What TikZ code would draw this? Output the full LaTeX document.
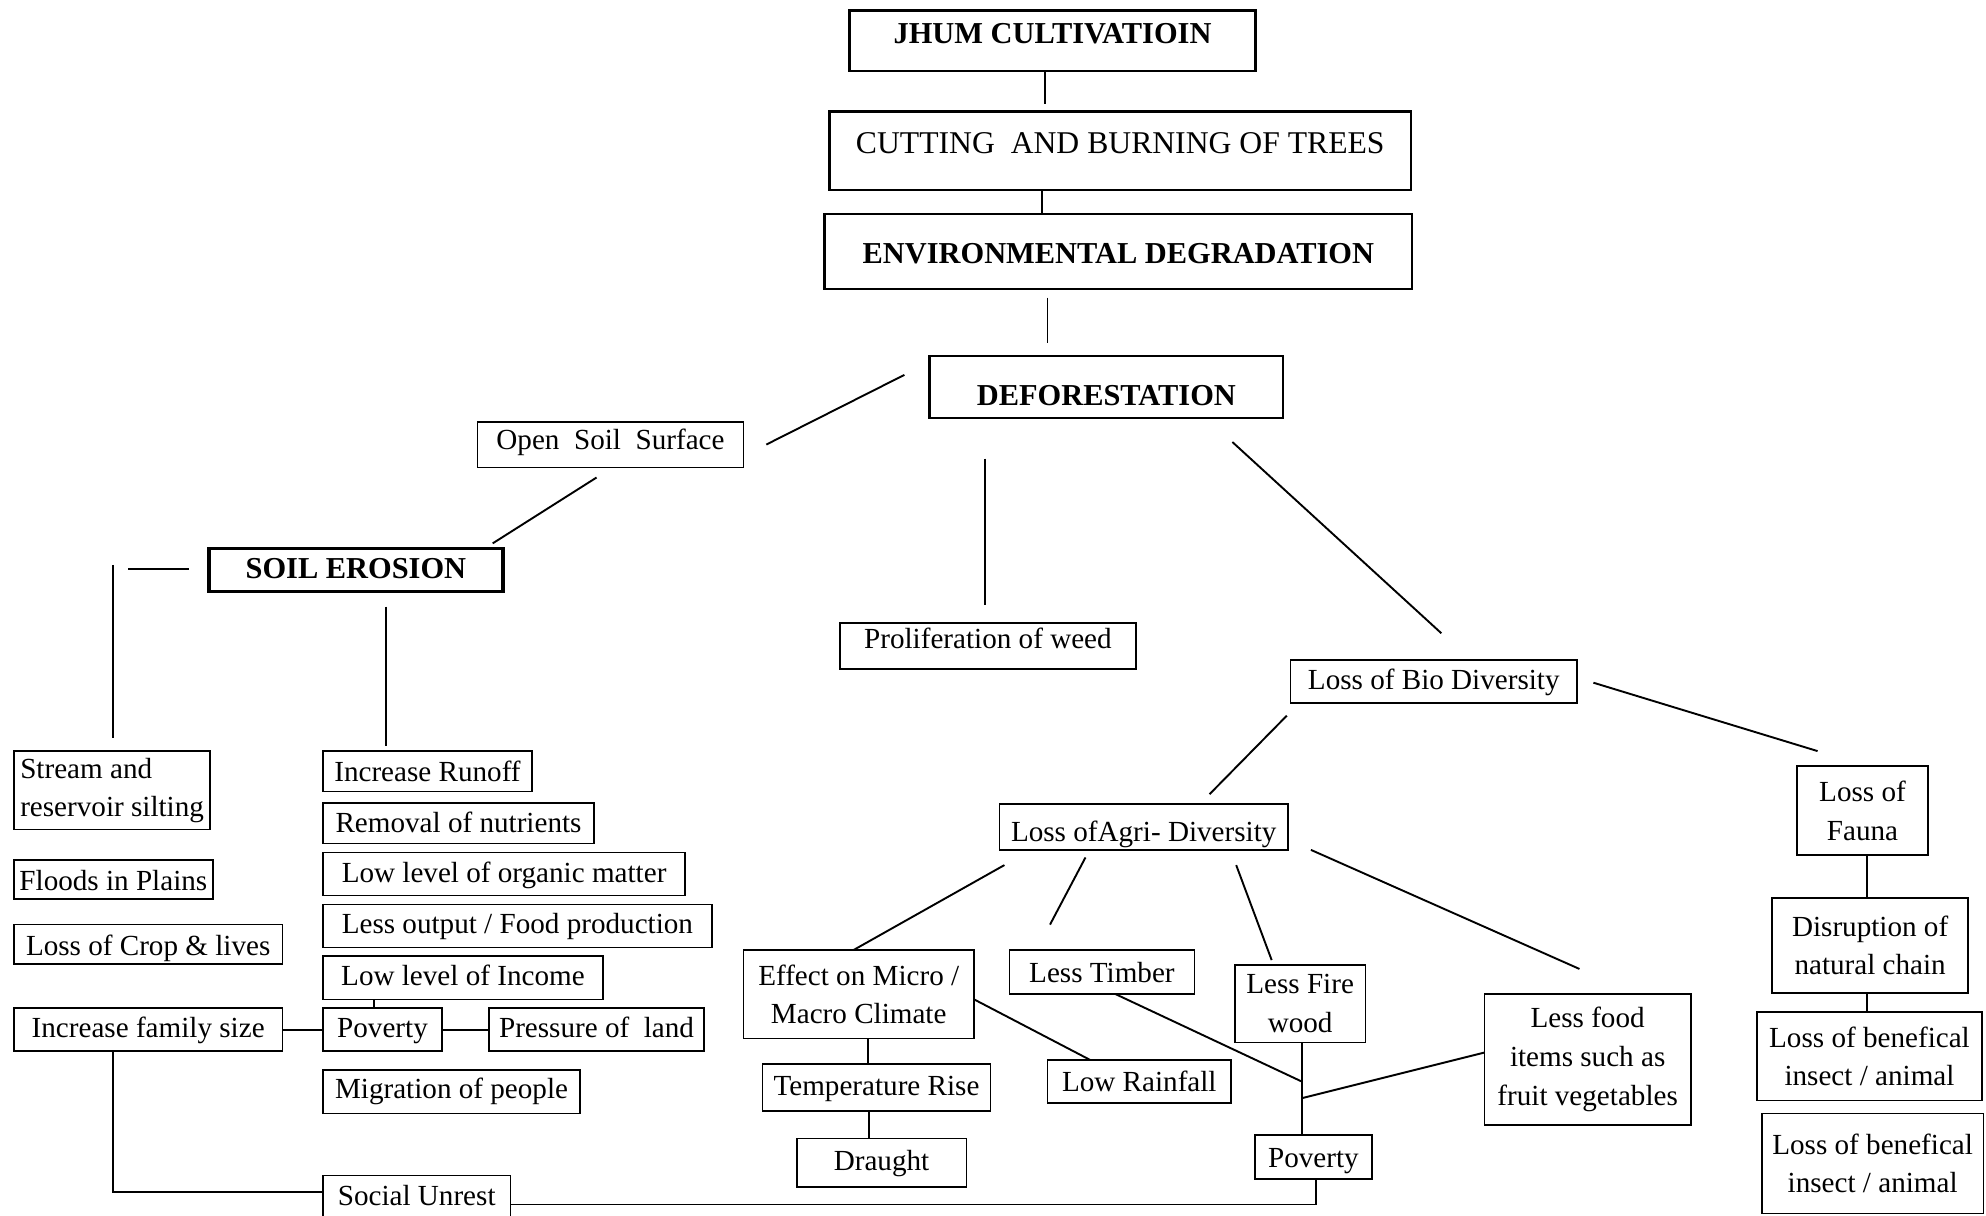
\documentclass[tikz,border=0pt]{standalone}
\usepackage{fontspec}
\setmainfont{Liberation Serif}
\usetikzlibrary{calc}
\tikzset{
  bx/.style={draw, line width=1.3pt, inner xsep=4pt, inner ysep=0pt, outer sep=0pt,
    anchor=north west, font=\fontsize{23}{30.5}\selectfont},
  ml/.style={bx, align=center},
  hd/.style={bx, line width=1.9pt, font=\fontsize{24}{28}\selectfont\bfseries},
  ln/.style={line width=1.5pt},
}
\begin{document}
\begin{tikzpicture}[x=1pt, y=-1pt]
\useasboundingbox (0,0) rectangle (1568,960);
\fill[white] (0,0) rectangle (1568,960);

% top chain
\node[hd, line width=2.2pt, minimum width=320pt, text height=26pt, text depth=22pt] (jhum) at (671,8) {JHUM CULTIVATIOIN};
\node[bx, line width=1.8pt, font=\fontsize{25}{28}\selectfont, minimum width=459pt, text height=33pt, text depth=29pt] (cutting) at (655,88) {CUTTING\ \ AND BURNING OF TREES};
\node[hd, minimum width=464pt, text height=39pt, text depth=20pt] (env) at (651,169) {ENVIRONMENTAL DEGRADATION};
\node[hd, minimum width=279pt, text height=39pt, text depth=10pt] (defor) at (734,281) {DEFORESTATION};

% left branch
\node[bx, minimum width=210pt, text height=22pt, text depth=14pt] (opensoil) at (377,333) {Open~ Soil~ Surface};
\node[hd, line width=3pt, minimum width=232pt, text height=24pt, text depth=10pt] (soilero) at (165,433) {SOIL EROSION};

\node[ml, align=left, minimum width=155pt, minimum height=62pt] (stream) at (11,593) {Stream and\\reservoir silting};
\node[bx, minimum width=157pt, text height=24pt, text depth=7pt] (floods) at (11,679) {Floods in Plains};
\node[bx, minimum width=212pt, text height=24pt, text depth=7pt] (losscrop) at (11,730) {Loss of Crop \& lives};
\node[bx, minimum width=212pt, text height=23pt, text depth=11pt] (famsize) at (11,796) {Increase family size};
\node[bx, minimum width=94pt, text height=23pt, text depth=11pt] (povL) at (255,796) {Poverty};
\node[bx, minimum width=170pt, text height=23pt, text depth=11pt] (pressure) at (386,796) {Pressure of~ land};

\node[bx, minimum width=165pt, text height=24pt, text depth=8pt] (runoff) at (255,593) {Increase Runoff};
\node[bx, minimum width=214pt, text height=23pt, text depth=9pt] (nutrients) at (255,634) {Removal of nutrients};
\node[bx, minimum width=286pt, text height=24pt, text depth=10pt] (organic) at (255,673) {Low level of organic matter};
\node[bx, minimum width=307pt, text height=23pt, text depth=11pt] (output) at (255,714) {Less output / Food production};
\node[bx, minimum width=221pt, text height=23pt, text depth=11pt] (income) at (255,755) {Low level of Income};
\node[bx, minimum width=203pt, text height=22pt, text depth=12pt] (migration) at (255,845) {Migration of people};
\node[bx, minimum width=148pt, text height=24pt, text depth=13pt] (social) at (255,928) {Social Unrest};

% middle
\node[bx, minimum width=234pt, text height=20pt, text depth=16pt] (prolif) at (663,492) {Proliferation of weed};
\node[bx, minimum width=226pt, text height=23pt, text depth=11pt] (lossbio) at (1019,521) {Loss of Bio Diversity};
\node[bx, minimum width=228pt, text height=29pt, text depth=7pt] (agri) at (789,635) {Loss ofAgri- Diversity};

\node[ml, minimum width=182pt, minimum height=70pt] (effect) at (587,750) {Effect on Micro /\\Macro Climate};
\node[bx, minimum width=145pt, text height=25pt, text depth=9pt] (lowrain) at (827,837) {Low Rainfall};
\node[bx, minimum width=180pt, text height=25pt, text depth=12pt] (temp) at (602,840) {Temperature Rise};
\node[bx, minimum width=134pt, text height=25pt, text depth=13pt] (draught) at (629,899) {Draught};
\node[bx, minimum width=146pt, text height=26pt, text depth=9pt] (timber) at (797,750) {Less Timber};
\node[ml, minimum width=103pt, minimum height=61pt] (firewood) at (975,762) {Less Fire\\wood};
\node[ml, minimum width=163pt, minimum height=103pt] (lessfood) at (1172,785) {Less food\\items such as\\fruit vegetables};
\node[bx, minimum width=92pt, text height=26pt, text depth=9pt] (povR) at (991,896) {Poverty};

% right
\node[ml, minimum width=103pt, minimum height=70pt] (fauna) at (1419,605) {Loss of\\Fauna};
\node[ml, minimum width=155pt, minimum height=75pt] (disrupt) at (1399,709) {Disruption of\\natural chain};
\node[ml, minimum width=178pt, minimum height=70pt] (benef1) at (1387,799) {Loss of benefical\\insect / animal};
\node[ml, minimum width=175pt, minimum height=79pt] (benef2) at (1391,879) {Loss of benefical\\insect / animal};

% connectors
\draw[ln] ($(jhum.south west)+(154,1)$) -- ($(cutting.north west)+(170,-6)$);
\draw[ln] ($(cutting.south west)+(168,0)$) -- ($(env.north west)+(172,0)$);
\draw[ln] ($(env.south west)+(176,7)$) -- ($(defor.north west)+(93,-10)$);
\draw[ln] ($(defor.west)+(-20,-9.5)$) -- ($(opensoil.east)+(18,0)$);
\draw[ln] ($(opensoil.south west)+(94,8)$) -- ($(soilero.north west)+(224,-4)$);
\draw[ln] ($(soilero.west)+(-16,-1)$) -- ($(soilero.west)+(-64,-1)$);
\draw[ln] ($(stream.north west)+(78,-147)$) -- ($(stream.north west)+(78,-10)$);
\draw[ln] ($(soilero.south west)+(140,12)$) -- ($(runoff.north west)+(50,-4)$);
\draw[ln] ($(defor.south west)+(44,32)$) -- ($(prolif.north west)+(115,-14)$);
\draw[ln] ($(defor.south west)+(239,19)$) -- ($(lossbio.north west)+(119,-21)$);
\draw[ln] ($(lossbio.east)+(13,1)$) -- ($(fauna.north west)+(16,-12)$);
\draw[ln] ($(lossbio.south west)+(-3,10)$) -- ($(agri.north west)+(166,-8)$);
\draw[ln] ($(agri.south west)+(4,12)$) -- ($(effect.north west)+(87,0)$);
\draw[ln] ($(agri.south west)+(68,6)$) -- ($(timber.north west)+(32,-20)$);
\draw[ln] ($(agri.south west)+(187,12)$) -- ($(firewood.north west)+(29,-4)$);
\draw[ln] ($(agri.south east)+(18,0)$) -- ($(lessfood.north west)+(75,-20)$);
\draw[ln] ($(effect.north east)+(0,39)$) -- ($(lowrain.north west)+(34,0)$);
\draw[ln] ($(effect.south west)+(98,0)$) -- ($(temp.north west)+(83,0)$);
\draw[ln] ($(temp.south west)+(84,0)$) -- ($(draught.north west)+(57,0)$);
\draw[ln] ($(timber.south west)+(84,0)$) -- ($(firewood.south west)+(53,31)$);
\draw[ln] ($(firewood.south west)+(53,0)$) -- ($(povR.north west)+(37,0)$);
\draw[ln] ($(firewood.south west)+(53,44)$) -- ($(lessfood.north west)+(0,46)$);
\draw[ln] ($(povR.south west)+(48,0)$) |- ($(social.north east)+(0,23)$);
\draw[ln] ($(social.north west)+(0,13)$) -| ($(famsize.south west)+(78,0)$);
\draw[ln] (famsize.east) -- (povL.west);
\draw[ln] (povL.east) -- (pressure.west);
\draw[ln] ($(income.south west)+(40,0)$) -- ($(povL.north west)+(40,0)$);
\draw[ln] ($(fauna.south west)+(55,0)$) -- ($(disrupt.north west)+(75,0)$);
\draw[ln] ($(disrupt.south west)+(75,0)$) -- ($(benef1.north west)+(87,0)$);
\end{tikzpicture}
\end{document}
